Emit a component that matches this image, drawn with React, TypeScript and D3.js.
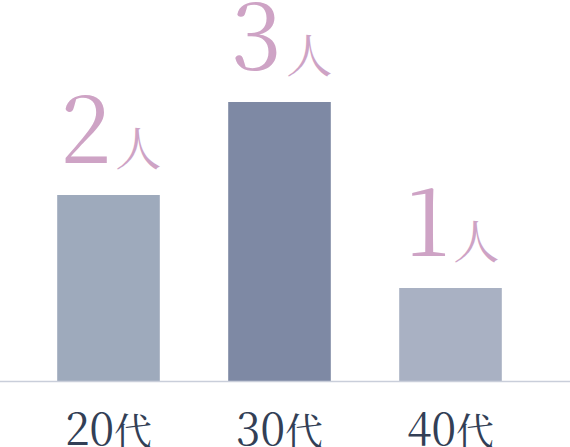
import React from 'react';
import * as d3 from 'd3';

const categories = ['20代', '30代', '40代'];
const counts = [2, 3, 1];
const barColors = ['#9eaabc', '#7e89a4', '#a9b1c3'];
const unit = '人';

const width = 570;
const height = 447;
const baseY = 381;

const serif = 'Noto Serif CJK JP';

const App = () => {
  const x = d3.scaleBand<string>()
    .domain(categories)
    .range([23, 536])
    .paddingInner(0.4)
    .paddingOuter(0.2);

  const y = d3.scaleLinear()
    .domain([0, 3])
    .range([baseY, 102]);

  return (
    <svg width={width} height={height} style={{ position: 'absolute', left: 0, top: 0, background: '#fff' }}>
      {/* bars */}
      {categories.map((c, i) => (
        <rect
          key={c}
          x={x(c)}
          y={y(counts[i])}
          width={x.bandwidth()}
          height={baseY - y(counts[i])}
          fill={barColors[i]}
        />
      ))}

      {/* baseline */}
      <line x1={0} x2={width} y1={baseY + 0.5} y2={baseY + 0.5} stroke="#c9ceda" strokeWidth={1.6} />

      {/* value labels */}
      {categories.map((c, i) => (
        <text
          key={'v' + c}
          x={(x(c) ?? 0) + x.bandwidth() / 2 + 2}
          y={y(counts[i]) - 32}
          textAnchor="middle"
          fill="#cea3c5"
          fontFamily={serif}
        >
          <tspan fontSize={92}>{counts[i]}</tspan>
          <tspan fontSize={46} dx={4} dy={2}>{unit}</tspan>
        </text>
      ))}

      {/* category labels */}
      {categories.map((c) => (
        <text
          key={'c' + c}
          x={(x(c) ?? 0) + x.bandwidth() / 2}
          y={445}
          textAnchor="middle"
          fill="#333f56"
          fontFamily={serif}
        >
          <tspan fontSize={44}>{c.slice(0, 2)}</tspan>
          <tspan fontSize={38}>{c.slice(2)}</tspan>
        </text>
      ))}
    </svg>
  );
};

export default App;
